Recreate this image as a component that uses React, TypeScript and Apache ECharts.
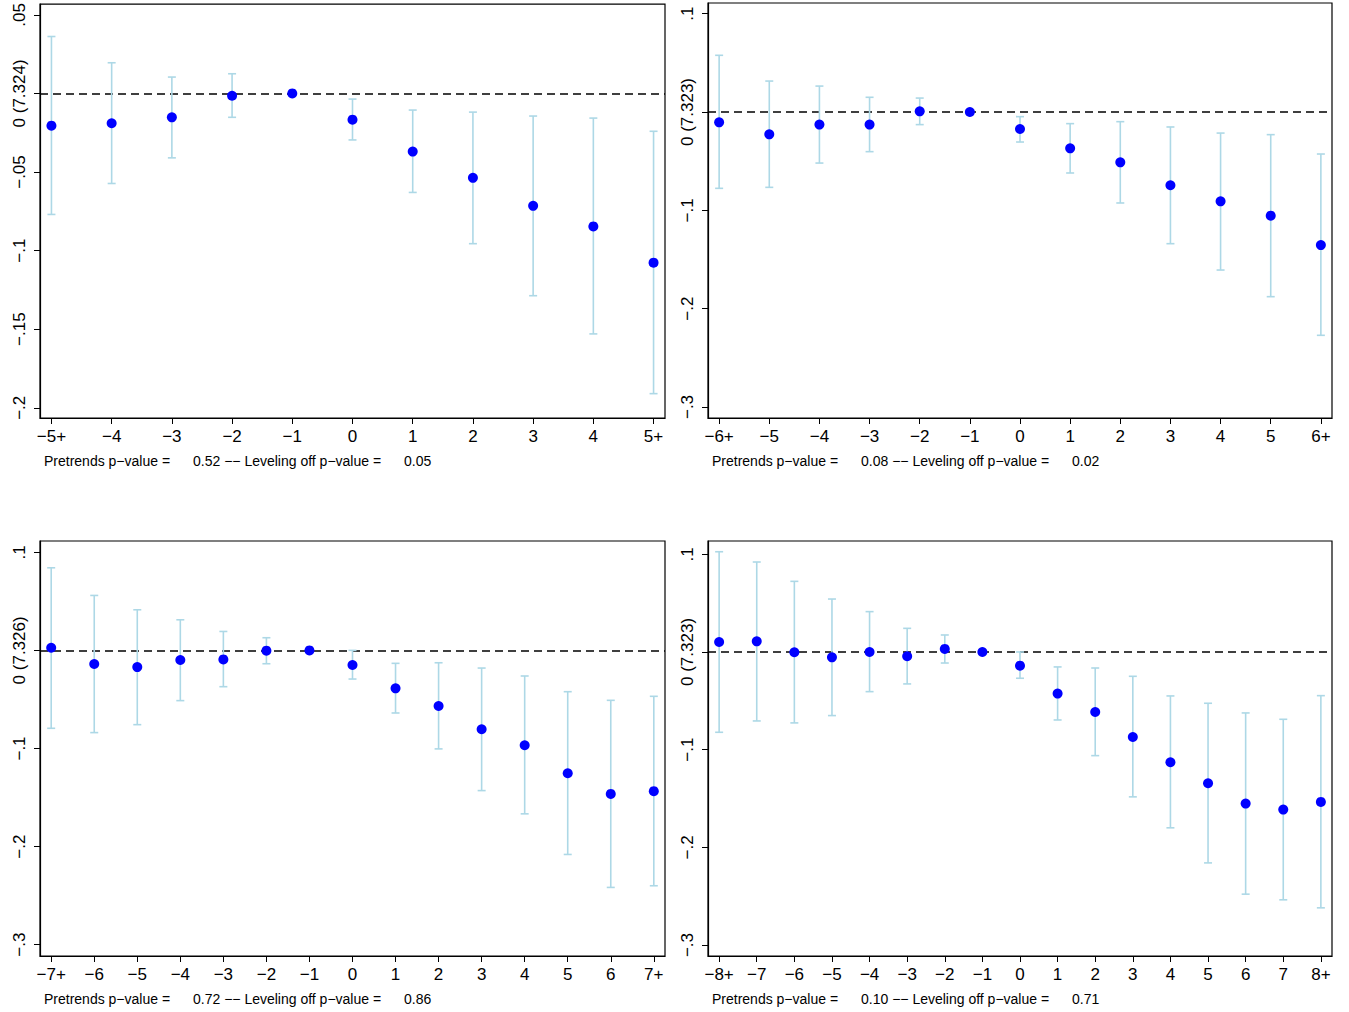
import React, { useEffect, useRef } from "react";
import * as echarts from "echarts";

// ---- Panel A: event window -5+ .. 5+ ----
const aTimes = [-5, -4, -3, -2, -1, 0, 1, 2, 3, 4, 5];
const aLabels = ["−5+", "−4", "−3", "−2", "−1", "0", "1", "2", "3", "4", "5+"];
const aEst = [-0.0205, -0.019, -0.0152, -0.0015, 0, -0.0167, -0.037, -0.0537, -0.0715, -0.0846, -0.1077];
const aLo = [-0.077, -0.0573, -0.041, -0.0152, null, -0.0296, -0.063, -0.0956, -0.1287, -0.153, -0.191];
const aHi = [0.0362, 0.0195, 0.0104, 0.0125, null, -0.0036, -0.0106, -0.0119, -0.0144, -0.0157, -0.0241];
const aYTicks = [0.05, 0, -0.05, -0.1, -0.15, -0.2];
const aYLabels = [".05", "0 (7.324)", "−.05", "−.1", "−.15", "−.2"];
const aPre = "0.52";
const aLev = "0.05";

// ---- Panel B: event window -6+ .. 6+ ----
const bTimes = [-6, -5, -4, -3, -2, -1, 0, 1, 2, 3, 4, 5, 6];
const bLabels = ["−6+", "−5", "−4", "−3", "−2", "−1", "0", "1", "2", "3", "4", "5", "6+"];
const bEst = [-0.0105, -0.0227, -0.0128, -0.0128, 0.0007, 0, -0.0173, -0.0369, -0.0512, -0.0745, -0.0908, -0.1054, -0.1353];
const bLo = [-0.0776, -0.0766, -0.0519, -0.0403, -0.0128, null, -0.0305, -0.062, -0.0925, -0.1339, -0.1607, -0.1878, -0.2271];
const bHi = [0.0577, 0.0315, 0.0264, 0.015, 0.0142, null, -0.0047, -0.0118, -0.0098, -0.0152, -0.0214, -0.023, -0.0427];
const bYTicks = [0.1, 0, -0.1, -0.2, -0.3];
const bYLabels = [".1", "0 (7.323)", "−.1", "−.2", "−.3"];
const bPre = "0.08";
const bLev = "0.02";

// ---- Panel C: event window -7+ .. 7+ ----
const cTimes = [-7, -6, -5, -4, -3, -2, -1, 0, 1, 2, 3, 4, 5, 6, 7];
const cLabels = ["−7+", "−6", "−5", "−4", "−3", "−2", "−1", "0", "1", "2", "3", "4", "5", "6", "7+"];
const cEst = [0.0027, -0.0139, -0.017, -0.0098, -0.0092, -0.0003, 0, -0.0149, -0.0387, -0.0567, -0.0804, -0.0967, -0.1252, -0.1463, -0.1435];
const cLo = [-0.0794, -0.0838, -0.0757, -0.0512, -0.037, -0.0136, null, -0.0292, -0.0638, -0.1004, -0.1429, -0.1666, -0.208, -0.2416, -0.2399];
const cHi = [0.0842, 0.056, 0.0414, 0.0312, 0.0193, 0.0129, null, 0.0, -0.0132, -0.0126, -0.018, -0.0261, -0.0421, -0.0509, -0.0468];
const cYTicks = [0.1, 0, -0.1, -0.2, -0.3];
const cYLabels = [".1", "0 (7.326)", "−.1", "−.2", "−.3"];
const cPre = "0.72";
const cLev = "0.86";

// ---- Panel D: event window -8+ .. 8+ ----
const dTimes = [-8, -7, -6, -5, -4, -3, -2, -1, 0, 1, 2, 3, 4, 5, 6, 7, 8];
const dLabels = ["−8+", "−7", "−6", "−5", "−4", "−3", "−2", "−1", "0", "1", "2", "3", "4", "5", "6", "7", "8+"];
const dEst = [0.0102, 0.0109, -0.0003, -0.0055, 0.0, -0.0044, 0.0031, 0, -0.014, -0.0426, -0.0614, -0.087, -0.1129, -0.1344, -0.1552, -0.1613, -0.1535];
const dLo = [-0.0822, -0.0706, -0.0726, -0.0651, -0.0406, -0.0327, -0.0113, null, -0.0269, -0.0696, -0.1061, -0.1483, -0.18, -0.2159, -0.2479, -0.2537, -0.2619];
const dHi = [0.1026, 0.0921, 0.0723, 0.0542, 0.0413, 0.0242, 0.0174, null, 0.0, -0.0153, -0.0164, -0.0249, -0.045, -0.0525, -0.0624, -0.0689, -0.0447];
const dYTicks = [0.1, 0, -0.1, -0.2, -0.3];
const dYLabels = [".1", "0 (7.323)", "−.1", "−.2", "−.3"];
const dPre = "0.10";
const dLev = "0.71";

const PRE_TEXT = "Pretrends p−value =";
const LEV_TEXT = "−− Leveling off p−value =";

const FONT = "'Liberation Sans', Arial, Helvetica, sans-serif";
const CI_COLOR = "#ADD8E6";
const DOT_COLOR = "#0000FF";

type Panel = {
  times: number[];
  labels: string[];
  est: number[];
  lo: (number | null)[];
  hi: (number | null)[];
  yTicks: number[];
  yLabels: string[];
  pre: string;
  lev: string;
  grid: { left: number; top: number; width: number; height: number };
  xPad: number;
  yMin: number;
  yMax: number;
};

const panels: Panel[] = [
  {
    times: aTimes, labels: aLabels, est: aEst, lo: aLo, hi: aHi,
    yTicks: aYTicks, yLabels: aYLabels, pre: aPre, lev: aLev,
    grid: { left: 40, top: 3, width: 625, height: 415 },
    xPad: 0.19, yMin: -0.2065, yMax: 0.0568,
  },
  {
    times: bTimes, labels: bLabels, est: bEst, lo: bLo, hi: bHi,
    yTicks: bYTicks, yLabels: bYLabels, pre: bPre, lev: bLev,
    grid: { left: 708, top: 3, width: 624, height: 415 },
    xPad: 0.222, yMin: -0.3112, yMax: 0.1109,
  },
  {
    times: cTimes, labels: cLabels, est: cEst, lo: cLo, hi: cHi,
    yTicks: cYTicks, yLabels: cYLabels, pre: cPre, lev: cLev,
    grid: { left: 40, top: 541, width: 625, height: 415 },
    xPad: 0.26, yMin: -0.3115, yMax: 0.1115,
  },
  {
    times: dTimes, labels: dLabels, est: dEst, lo: dLo, hi: dHi,
    yTicks: dYTicks, yLabels: dYLabels, pre: dPre, lev: dLev,
    grid: { left: 708, top: 541, width: 624, height: 415 },
    xPad: 0.296, yMin: -0.3112, yMax: 0.1136,
  },
];

function lookup(values: number[], labels: string[], v: number): string {
  for (let i = 0; i < values.length; i++) {
    if (Math.abs(values[i] - v) < 1e-9) return labels[i];
  }
  return "";
}

function buildOption() {
  const grids: any[] = [];
  const xAxes: any[] = [];
  const yAxes: any[] = [];
  const series: any[] = [];
  const graphics: any[] = [];

  panels.forEach((p, i) => {
    grids.push({
      ...p.grid,
      show: true,
      borderColor: "#000",
      borderWidth: 1.2,
      backgroundColor: "#fff",
      containLabel: false,
    });
    const first = p.times[0];
    const last = p.times[p.times.length - 1];
    xAxes.push({
      type: "value",
      gridIndex: i,
      min: first - p.xPad,
      max: last + p.xPad,
      axisLine: { show: true, onZero: false, lineStyle: { color: "#000", width: 1.2 } },
      axisTick: { show: true, length: 6, customValues: p.times, lineStyle: { color: "#000", width: 1 } },
      axisLabel: {
        show: true,
        customValues: p.times,
        margin: 10,
        fontSize: 17,
        fontFamily: FONT,
        color: "#000",
        formatter: (v: number) => lookup(p.times, p.labels, v),
      },
      splitLine: { show: false },
    });
    yAxes.push({
      type: "value",
      gridIndex: i,
      min: p.yMin,
      max: p.yMax,
      axisLine: { show: true, onZero: false, lineStyle: { color: "#000", width: 1.2 } },
      axisTick: { show: true, length: 6, customValues: p.yTicks, lineStyle: { color: "#000", width: 1 } },
      axisLabel: {
        show: true,
        customValues: p.yTicks,
        rotate: 90,
        margin: 12,
        fontSize: 17,
        fontFamily: FONT,
        color: "#000",
        formatter: (v: number) => lookup(p.yTicks, p.yLabels, v),
      },
      splitLine: { show: false },
    });

    const ciData: number[][] = [];
    p.times.forEach((t, k) => {
      const lo = p.lo[k];
      const hi = p.hi[k];
      if (lo !== null && hi !== null) ciData.push([t, lo, hi]);
    });

    series.push({
      type: "custom",
      xAxisIndex: i,
      yAxisIndex: i,
      data: ciData,
      encode: { x: 0, y: [1, 2] },
      z: 2,
      silent: true,
      renderItem: (_params: any, api: any) => {
        const x = api.value(0);
        const pLo = api.coord([x, api.value(1)]);
        const pHi = api.coord([x, api.value(2)]);
        const cap = 4;
        const style = { stroke: CI_COLOR, lineWidth: 1.6 };
        return {
          type: "group",
          children: [
            { type: "line", shape: { x1: pLo[0], y1: pLo[1], x2: pHi[0], y2: pHi[1] }, style },
            { type: "line", shape: { x1: pLo[0] - cap, y1: pLo[1], x2: pLo[0] + cap, y2: pLo[1] }, style },
            { type: "line", shape: { x1: pHi[0] - cap, y1: pHi[1], x2: pHi[0] + cap, y2: pHi[1] }, style },
          ],
        };
      },
    });

    series.push({
      type: "scatter",
      xAxisIndex: i,
      yAxisIndex: i,
      data: p.times.map((t, k) => [t, p.est[k]]),
      symbol: "circle",
      symbolSize: 10,
      itemStyle: { color: DOT_COLOR, opacity: 1 },
      z: 4,
      silent: true,
      markLine: {
        silent: true,
        symbol: ["none", "none"],
        label: { show: false },
        lineStyle: { color: "#000", type: [8, 5], width: 1.5 },
        data: [{ yAxis: 0 }],
        z: 1,
      },
    });

    const tx = p.grid.left;
    const ty = p.grid.top + p.grid.height + 42.5;
    const textStyle = { fontSize: 14, fontFamily: FONT, fill: "#000", verticalAlign: "middle" };
    graphics.push(
      { type: "text", x: tx + 4, y: ty, style: { ...textStyle, text: PRE_TEXT } },
      { type: "text", x: tx + 153, y: ty, style: { ...textStyle, text: `${p.pre} ${LEV_TEXT}` } },
      { type: "text", x: tx + 364, y: ty, style: { ...textStyle, text: p.lev } }
    );
  });

  return {
    animation: false,
    backgroundColor: "#fff",
    grid: grids,
    xAxis: xAxes,
    yAxis: yAxes,
    series,
    graphic: graphics,
  };
}

export default function App() {
  const ref = useRef<HTMLDivElement>(null);
  useEffect(() => {
    if (!ref.current) return;
    const chart = echarts.init(ref.current, undefined, { renderer: "svg" });
    chart.setOption(buildOption());
    return () => chart.dispose();
  }, []);
  return (
    <div
      ref={ref}
      style={{ position: "absolute", left: 0, top: 0, width: 1349, height: 1012, background: "#fff" }}
    />
  );
}
